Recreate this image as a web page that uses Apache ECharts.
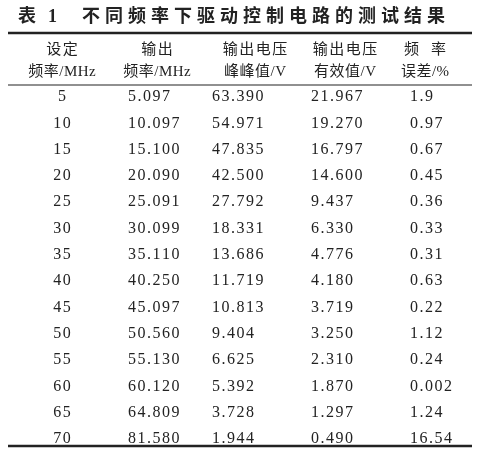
<!DOCTYPE html>
<html><head><meta charset="utf-8">
<script src="https://cdn.jsdelivr.net/npm/echarts@6/dist/echarts.min.js"></script>
<style>html,body{margin:0;background:#fff}#main{width:480px;height:452px}</style>
</head><body><div id="main"></div>
<script>
var titleHead = ["表", "1"];
var titleBody = "不同频率下驱动控制电路的测试结果";
var headers1 = ["设定", "输出", "输出电压", "输出电压", "频  率"];
var headers2 = ["频率/MHz", "频率/MHz", "峰峰值/V", "有效值/V", "误差/%"];
var setFreq = ["5","10","15","20","25","30","35","40","45","50","55","60","65","70"];
var outFreq = ["5.097","10.097","15.100","20.090","25.091","30.099","35.110","40.250","45.097","50.560","55.130","60.120","64.809","81.580"];
var vpp = ["63.390","54.971","47.835","42.500","27.792","18.331","13.686","11.719","10.813","9.404","6.625","5.392","3.728","1.944"];
var vrms = ["21.967","19.270","16.797","14.600","9.437","6.330","4.776","4.180","3.719","3.250","2.310","1.870","1.297","0.490"];
var errPct = ["1.9","0.97","0.67","0.45","0.36","0.33","0.31","0.63","0.22","1.12","0.24","0.002","1.24","16.54"];

var font = "'Liberation Serif','Noto Sans CJK SC',serif";
var headX = [62, 157, 255, 345, 425];
var colX = [62, 128, 212, 311, 410];
var colAlign = ["center", "left", "left", "left", "left"];
var cols = [setFreq, outFreq, vpp, vrms, errPct];

var ctx = document.createElement('canvas').getContext('2d');
var g = [];
// text drawn char by char so it can be letter-spaced
function txt(x, y, s, align, size, bold, gap) {
  var f = (bold ? 'bold ' : '') + size + 'px ' + font;
  ctx.font = f;
  gap = gap || 0;
  var ws = [], total = 0;
  for (var i = 0; i < s.length; i++) { ws.push(ctx.measureText(s[i]).width); total += ws[i]; }
  total += gap * (s.length - 1);
  var cx = align == 'center' ? x - total / 2 : x;
  for (var i = 0; i < s.length; i++) {
    g.push({type:'text', x:cx, y:y, style:{text:s[i], fill:'#222', font:f, align:'left', verticalAlign:'middle'}});
    cx += ws[i] + gap;
  }
}
function line(y, w) {
  g.push({type:'line', shape:{x1:8, y1:y, x2:472, y2:y}, style:{stroke:'#222', lineWidth:w}});
}
txt(18, 17, titleHead[0], 'left', 18, true);
txt(48, 17, titleHead[1], 'left', 18, true);
txt(82, 17, titleBody, 'left', 18, true, 5);
line(33, 2.5);
line(85, 1.2);
line(446, 2.5);
for (var i = 0; i < 5; i++) {
  txt(headX[i], 50, headers1[i], 'center', 15, false, 1.5);
  txt(headX[i], 72, headers2[i], 'center', 15, false, 0.5);
}
for (var r = 0; r < setFreq.length; r++) {
  var y = 97 + r * 26.3;
  for (var c = 0; c < 5; c++) txt(colX[c], y, cols[c][r], colAlign[c], 16, false, 1.5);
}
var chart = echarts.init(document.getElementById('main'));
chart.setOption({animation:false, graphic:g});
</script></body></html>
